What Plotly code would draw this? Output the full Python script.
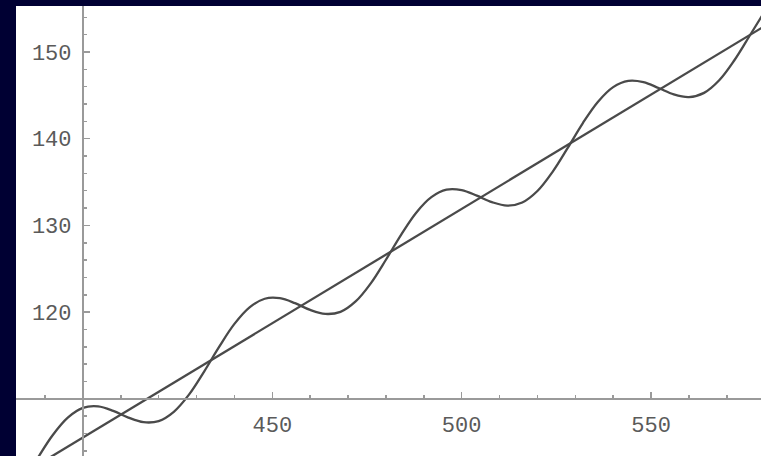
import plotly.graph_objects as go

# Straight reference line (endpoints)
line_x = [380, 580]
line_y = [100.26, 153.0]

# Oscillating curve, values
wave_x = [384, 388, 392, 396, 400, 404, 408, 412, 416, 420, 424, 428, 432, 436,
          440, 444, 448, 452, 456, 460, 464, 468, 472, 476, 480, 484, 488, 492,
          496, 500, 504, 508, 512, 516, 520, 524, 528, 532, 536, 540, 544, 548,
          552, 556, 560, 564, 568, 572, 576, 580]
wave_y = [100.24, 103.13, 105.80, 107.83, 108.95, 109.12, 108.61, 107.83, 107.30,
          107.43, 108.50, 110.48, 113.14, 116.02, 118.64, 120.55, 121.54, 121.60,
          121.03, 120.25, 119.79, 120.03, 121.23, 123.32, 126.04, 128.92, 131.47,
          133.26, 134.12, 134.07, 133.43, 132.68, 132.28, 132.65, 133.97, 136.18,
          138.94, 141.81, 144.27, 145.95, 146.67, 146.53, 145.85, 145.11, 144.80,
          145.29, 146.74, 149.05, 151.85, 154.69]

x_ticks = [450, 500, 550]
x_labels = ["450", "500", "550"]
y_ticks = [120, 130, 140, 150]
y_labels = ["120", "130", "140", "150"]

x_range = [382.33, 579.03]
y_range = [103.40, 155.31]
x_cross = 400   # where the y axis sits
y_cross = 110   # where the x axis sits

curve_color = "#4a4a4a"
axis_color = "#9a9a9a"
label_font = dict(family="Liberation Mono, Courier New, monospace", size=22, color="#5a5a5a")

fig = go.Figure()
fig.add_trace(go.Scatter(x=line_x, y=line_y, mode="lines",
                         line=dict(color=curve_color, width=2.3), hoverinfo="skip"))
fig.add_trace(go.Scatter(x=wave_x, y=wave_y, mode="lines", line_shape="spline",
                         line=dict(color=curve_color, width=2.3), hoverinfo="skip"))

xpos = (x_cross - x_range[0]) / (x_range[1] - x_range[0])
ypos = (y_cross - y_range[0]) / (y_range[1] - y_range[0])

fig.update_layout(
    width=761, height=456,
    margin=dict(l=16, r=0, t=6, b=0),
    paper_bgcolor="#000033",
    plot_bgcolor="white",
    showlegend=False,
    xaxis=dict(range=x_range, showgrid=False, zeroline=False,
               anchor="free", position=ypos, side="bottom",
               showline=True, linecolor=axis_color, linewidth=2,
               tickmode="array", tickvals=x_ticks, ticktext=x_labels,
               ticks="inside", ticklen=6, tickwidth=1.5, tickcolor=axis_color,
               ticklabelstandoff=6,
               minor=dict(tickmode="linear", tick0=0, dtick=10, ticks="inside",
                          ticklen=3, tickwidth=1.5, tickcolor=axis_color),
               tickfont=label_font),
    yaxis=dict(range=y_range, showgrid=False, zeroline=False,
               anchor="free", position=xpos, side="left",
               showline=True, linecolor=axis_color, linewidth=2,
               tickmode="array", tickvals=y_ticks, ticktext=y_labels,
               ticks="inside", ticklen=6, tickwidth=1.5, tickcolor=axis_color,
               ticklabelstandoff=6,
               minor=dict(tickmode="linear", tick0=0, dtick=2, ticks="inside",
                          ticklen=3, tickwidth=1.5, tickcolor=axis_color),
               tickfont=label_font),
)

fig.write_html("out.html",
               config={"displayModeBar": False, "staticPlot": True},
               post_script="document.body.style.margin='0';document.body.style.background='#000033';")
